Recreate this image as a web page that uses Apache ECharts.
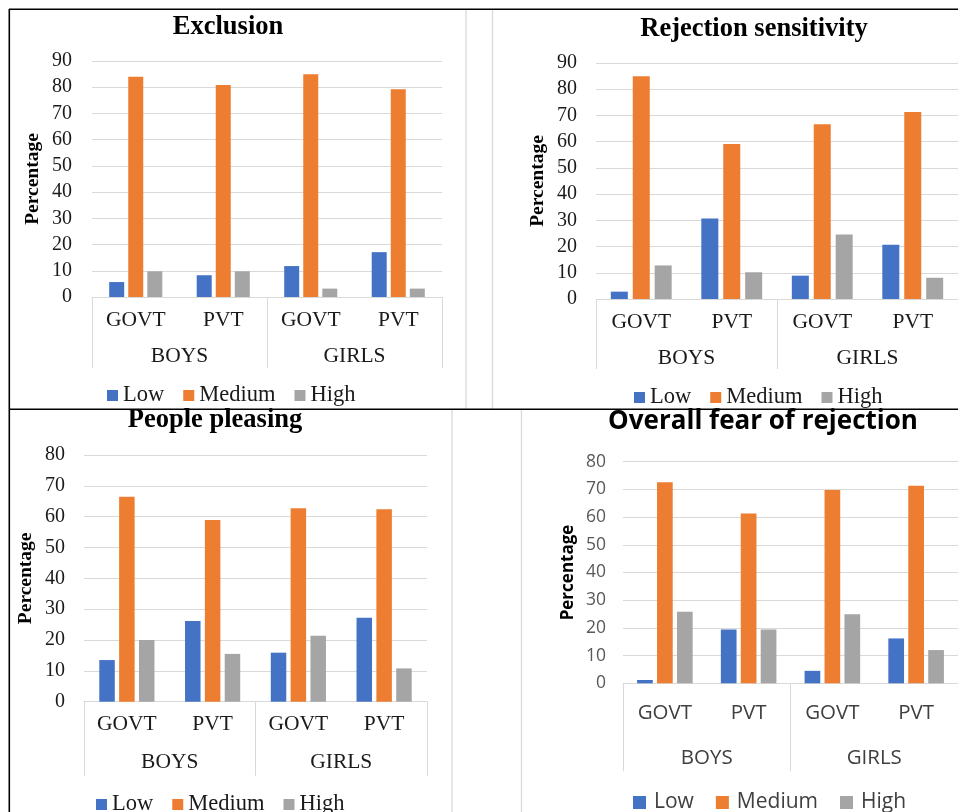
<!DOCTYPE html>
<html><head><meta charset="utf-8">
<script src="https://cdn.jsdelivr.net/npm/echarts@6/dist/echarts.min.js"></script>
<style>html,body{margin:0;padding:0;background:#fff;overflow:hidden}#c{width:958px;height:812px}</style>
</head><body><div id="c"></div>
<script>
// ---- data ----
const subCategories = ['GOVT', 'PVT', 'GOVT', 'PVT'];
const groupCategories = ['BOYS', 'GIRLS'];
const levels = ['Low', 'Medium', 'High'];
const panelTitles = ['Exclusion', 'Rejection sensitivity', 'People pleasing', 'Overall fear of rejection'];
const yAxisName = 'Percentage';
const yMax = [90, 90, 80, 80];
const yInterval = 10;

const exclusionLow = [5.7, 8.3, 11.8, 17.1];
const exclusionMedium = [84.0, 80.8, 84.9, 79.2];
const exclusionHigh = [9.8, 9.8, 3.2, 3.2];

const rejectionLow = [2.8, 30.7, 8.9, 20.7];
const rejectionMedium = [84.9, 59.1, 66.6, 71.3];
const rejectionHigh = [12.8, 10.2, 24.6, 8.1];

const pleasingLow = [13.5, 26.2, 15.9, 27.2];
const pleasingMedium = [66.5, 58.9, 62.7, 62.4];
const pleasingHigh = [20.0, 15.5, 21.4, 10.8];

const overallLow = [1.2, 19.4, 4.5, 16.2];
const overallMedium = [72.6, 61.3, 69.8, 71.3];
const overallHigh = [25.8, 19.4, 24.9, 12.0];

const panelData = [
  [exclusionLow, exclusionMedium, exclusionHigh],
  [rejectionLow, rejectionMedium, rejectionHigh],
  [pleasingLow, pleasingMedium, pleasingHigh],
  [overallLow, overallMedium, overallHigh]
];

// ---- styling / layout ----
const colors = ['#4472C4', '#ED7D31', '#A5A5A5'];
const SERIF = '"Liberation Serif", "Times New Roman", serif';
const SANS = '"Open Sans", "Liberation Sans", sans-serif';
const gridColor = '#d9d9d9';

const layout = [
  {left: 92, top: 61, width: 350, height: 236, font: SERIF, tickColor: '#1a1a1a', tickSize: 20, catSize: 21.5, legSize: 22.5, titleSize: 26.5, nameSize: 19.5,
   titleX: 228, titleY: 27, legendX: 107, legendY: 396, icon: 11, textPad: 0, itemGap: 19, nameGap: 49, labelMargin: 20, barWidth: 15, barGap: '27%', subMargin: 23, groupMargin: 59, tickLen: 71},
  {left: 596, top: 63, width: 394, height: 236, font: SERIF, tickColor: '#1a1a1a', tickSize: 20, catSize: 21.5, legSize: 22.5, titleSize: 26.5, nameSize: 19.5,
   titleX: 754, titleY: 29, legendX: 634, legendY: 398, icon: 11, textPad: 0, itemGap: 19, nameGap: 48, labelMargin: 19, barWidth: 17, barGap: '29%', subMargin: 23, groupMargin: 59, tickLen: 70},
  {left: 84, top: 455, width: 343, height: 246.7, font: SERIF, tickColor: '#1a1a1a', tickSize: 20, catSize: 21.5, legSize: 22.5, titleSize: 26.5, nameSize: 19.5,
   titleX: 215, titleY: 420, legendX: 96, legendY: 805, icon: 11, textPad: 0, itemGap: 19, nameGap: 48, labelMargin: 19, barWidth: 15.5, barGap: '28%', subMargin: 23, groupMargin: 61, tickLen: 74},
  {left: 623, top: 461.7, width: 360, height: 221.6, font: SANS, tickColor: '#595959', tickSize: 17.5, catSize: 20.5, legSize: 21, titleSize: 26, nameSize: 17,
   titleX: 763, titleY: 422, legendX: 633, legendY: 804, icon: 13, textPad: 3, itemGap: 22, nameGap: 46, labelMargin: 17, barWidth: 15.7, barGap: '27%', subMargin: 30, groupMargin: 75, tickLen: 88}
];

const grids = [], xAxes = [], yAxes = [], series = [], titles = [], legends = [];
layout.forEach((L, p) => {
  const txtColor = L.font === SANS ? '#404040' : '#1a1a1a';
  grids.push({left: L.left, top: L.top, width: L.width, height: L.height, containLabel: false});
  titles.push({
    text: panelTitles[p], left: L.titleX, top: L.titleY, textAlign: 'center', textVerticalAlign: 'middle', padding: 0,
    textStyle: {fontFamily: L.font, fontWeight: 'bold', fontSize: L.titleSize, color: '#000'}
  });
  legends.push({
    data: levels, left: L.legendX, top: L.legendY - 12, padding: 0, icon: 'rect', itemWidth: L.icon, itemHeight: L.icon, itemGap: L.itemGap,
    textStyle: {fontFamily: L.font, fontSize: L.legSize, color: txtColor, padding: [0, 0, 0, L.textPad]}, selectedMode: false
  });
  xAxes.push({
    type: 'category', gridIndex: p, data: subCategories, position: 'bottom',
    axisLine: {show: true, lineStyle: {color: gridColor, width: 1}}, axisTick: {show: false},
    axisLabel: {interval: 0, margin: L.subMargin, verticalAlign: 'middle', fontFamily: L.font, fontSize: L.catSize, color: txtColor}
  });
  xAxes.push({
    type: 'category', gridIndex: p, data: groupCategories, position: 'bottom',
    axisLine: {show: false}, axisTick: {show: true, length: L.tickLen, lineStyle: {color: gridColor, width: 1}},
    axisLabel: {interval: 0, margin: L.groupMargin, verticalAlign: 'middle', fontFamily: L.font, fontSize: L.catSize, color: txtColor}
  });
  yAxes.push({
    type: 'value', gridIndex: p, min: 0, max: yMax[p], interval: yInterval,
    axisLine: {show: false}, axisTick: {show: false},
    splitLine: {show: true, lineStyle: {color: gridColor, width: 1}},
    axisLabel: {margin: L.labelMargin, fontFamily: L.font, fontSize: L.tickSize, color: L.tickColor},
    name: yAxisName, nameLocation: 'middle', nameRotate: 90, nameGap: L.nameGap,
    nameTextStyle: {fontFamily: L.font, fontWeight: 'bold', fontSize: L.nameSize, color: '#000'}
  });
  levels.forEach((lv, k) => {
    series.push({
      type: 'bar', name: lv, xAxisIndex: 2 * p, yAxisIndex: p, data: panelData[p][k],
      barWidth: L.barWidth, barGap: L.barGap, itemStyle: {color: colors[k]}, animation: false
    });
  });
});

const line = (x1, y1, x2, y2, color, w) => ({type: 'line', silent: true, shape: {x1, y1, x2, y2}, style: {stroke: color, lineWidth: w}});
const graphic = [
  line(466, 10, 466, 409, '#d9d9d9', 1.3),
  line(492.5, 10, 492.5, 409, '#d9d9d9', 1.3),
  line(452, 410, 452, 812, '#d9d9d9', 1.3),
  line(521.5, 410, 521.5, 812, '#d9d9d9', 1.3),
  line(9, 9.3, 958, 9.3, '#000', 1.6),
  line(9.3, 9, 9.3, 812, '#000', 1.6),
  line(9, 409.3, 958, 409.3, '#000', 1.6)
];

const chart = echarts.init(document.getElementById('c'), null, {renderer: 'canvas'});
chart.setOption({
  animation: false,
  color: colors,
  title: titles,
  legend: legends,
  grid: grids,
  xAxis: xAxes,
  yAxis: yAxes,
  series: series,
  graphic: graphic
});
</script>
</body></html>
